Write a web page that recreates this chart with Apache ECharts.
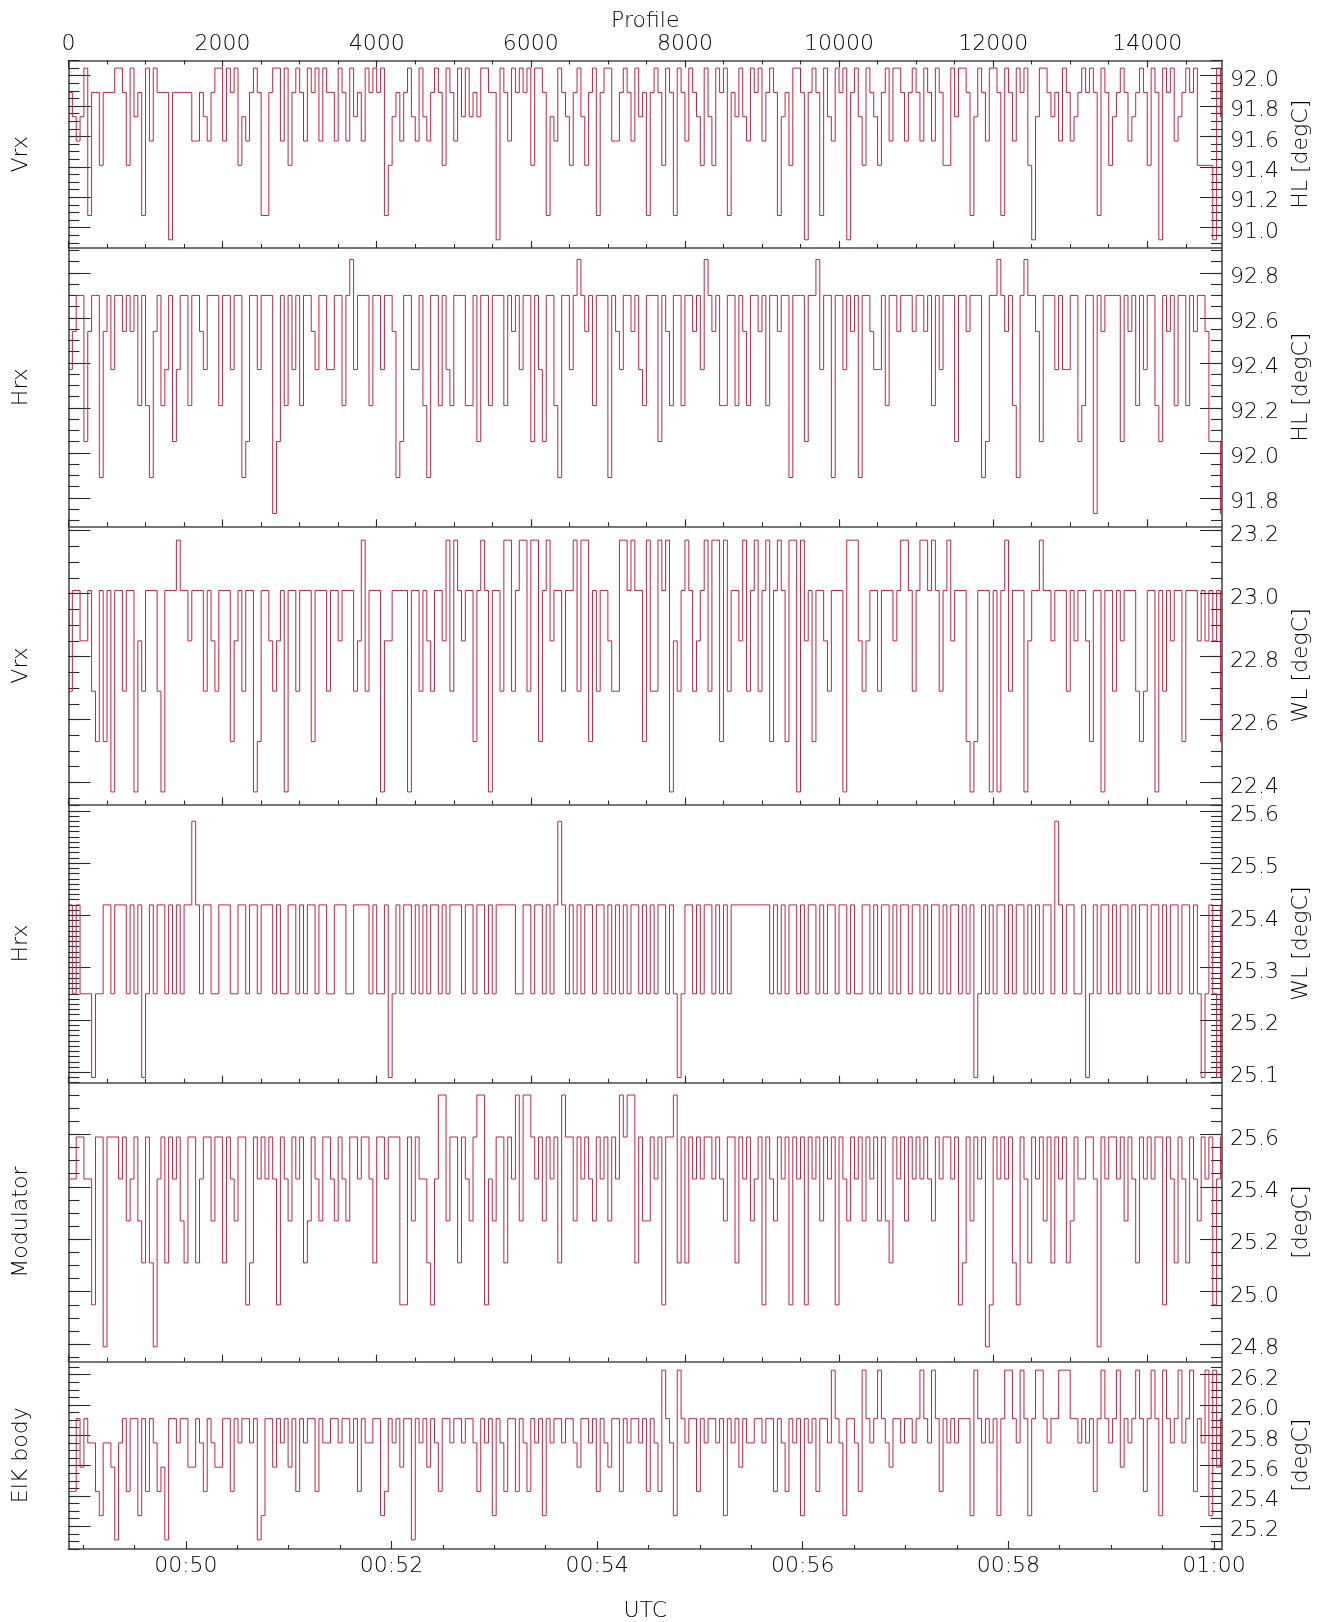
<!DOCTYPE html>
<html>
<head>
<meta charset="utf-8">
<title>Receiver temperatures</title>
<script src="https://cdn.jsdelivr.net/npm/echarts@6/dist/echarts.min.js"></script>
<style>
  html, body { margin: 0; padding: 0; background: #ffffff; }
  #chart { width: 1331px; height: 1622px; }
</style>
</head>
<body>
<div id="chart"></div>
<script>
// One stored sample every PROFILE_STEP profiles; each value holds until the next sample.
const PROFILE_STEP = 50;
const PROFILE_END = 14970;
// UTC (seconds after 00:00) at the first and the last profile
const UTC_START = 2931.5;
const UTC_END = 3604.7;

// Vrx, HL load [degC]
const vrxHl = [
  91.89,91.73,91.57,91.73,92.05,91.08,91.89,91.89,91.41,91.89,
  91.89,91.89,92.05,92.05,91.89,91.41,92.05,91.73,91.89,91.08,
  92.05,91.57,92.05,91.89,91.89,91.89,90.92,91.89,91.89,91.89,
  91.89,91.89,91.57,91.57,91.89,91.73,91.57,91.89,92.05,92.05,
  91.57,92.05,91.89,92.05,91.41,91.73,91.57,91.89,92.05,91.89,
  91.08,91.08,91.89,92.05,92.05,91.57,92.05,91.41,91.89,92.05,
  91.89,91.57,92.05,91.89,92.05,91.57,92.05,91.89,91.89,91.57,
  92.05,91.89,91.57,92.05,91.73,91.89,91.57,92.05,91.89,92.05,
  91.89,92.05,91.08,91.41,91.73,91.89,91.57,91.89,92.05,91.73,
  91.57,92.05,91.73,91.57,91.89,92.05,91.89,91.41,92.05,91.89,
  91.57,92.05,91.73,92.05,91.73,91.89,91.73,92.05,92.05,91.89,
  91.89,90.92,92.05,91.89,91.57,92.05,91.89,92.05,91.89,92.05,
  91.41,92.05,92.05,91.89,91.08,91.73,91.57,92.05,91.89,91.73,
  91.41,91.89,92.05,91.73,91.41,91.89,92.05,91.08,91.89,92.05,
  92.05,91.57,91.57,91.89,92.05,91.89,91.57,92.05,91.73,91.89,
  91.08,91.89,92.05,91.89,91.41,92.05,91.89,91.08,92.05,91.89,
  91.57,92.05,91.89,91.73,91.41,92.05,91.73,91.41,92.05,91.89,
  92.05,91.08,91.89,91.73,92.05,91.73,91.57,92.05,91.89,92.05,
  91.57,91.89,92.05,91.89,91.08,91.73,91.89,91.41,92.05,92.05,
  91.89,90.92,91.89,92.05,91.89,91.08,92.05,91.73,91.57,92.05,
  91.89,92.05,90.92,91.89,92.05,91.73,91.41,92.05,91.89,91.73,
  91.41,91.89,92.05,91.57,92.05,92.05,91.89,91.57,91.89,92.05,
  91.89,91.57,92.05,91.89,91.57,92.05,91.89,91.41,91.41,92.05,
  91.73,92.05,92.05,91.89,91.08,91.73,92.05,91.89,91.57,92.05,
  92.05,91.89,91.08,92.05,91.89,91.57,92.05,91.89,92.05,91.41,
  90.92,91.73,92.05,92.05,91.89,91.73,91.89,91.57,92.05,91.89,
  91.57,91.73,91.89,92.05,91.89,92.05,91.89,91.08,92.05,91.89,
  91.41,91.73,91.89,92.05,91.89,91.57,91.73,91.89,92.05,91.89,
  91.41,92.05,91.89,90.92,92.05,91.89,92.05,91.57,91.73,91.89,
  92.05,91.89,92.05,91.41,91.41,91.41,91.41,90.92,92.05,91.73
];

// Hrx, HL load [degC]
const hrxHl = [
  92.37,92.54,92.70,92.70,92.05,92.54,92.70,92.70,91.89,92.54,
  92.70,92.37,92.70,92.70,92.54,92.70,92.54,92.70,92.21,92.70,
  92.21,91.89,92.54,92.70,92.21,92.37,92.70,92.05,92.37,92.70,
  92.70,92.21,92.70,92.70,92.54,92.37,92.70,92.70,92.70,92.21,
  92.70,92.70,92.37,92.70,92.70,91.89,92.05,92.70,92.70,92.37,
  92.70,92.70,92.70,91.73,92.05,92.70,92.21,92.70,92.37,92.70,
  92.21,92.70,92.70,92.54,92.37,92.70,92.70,92.37,92.37,92.70,
  92.70,92.21,92.70,92.86,92.37,92.70,92.70,92.70,92.21,92.70,
  92.70,92.37,92.70,92.70,92.54,91.89,92.05,92.70,92.70,92.37,
  92.37,92.70,92.21,91.89,92.70,92.70,92.21,92.70,92.37,92.21,
  92.70,92.70,92.70,92.21,92.21,92.70,92.05,92.70,92.70,92.21,
  92.70,92.70,92.70,92.21,92.70,92.54,92.70,92.37,92.70,92.70,
  92.05,92.70,92.37,92.05,92.70,92.70,92.21,91.89,92.70,92.70,
  92.37,92.70,92.86,92.70,92.54,92.70,92.21,92.70,92.70,92.70,
  91.89,92.70,92.54,92.37,92.70,92.70,92.54,92.70,92.37,92.21,
  92.70,92.70,92.70,92.05,92.70,92.54,92.21,92.70,92.70,92.21,
  92.70,92.70,92.54,92.70,92.37,92.86,92.70,92.54,92.70,92.21,
  92.21,92.70,92.70,92.21,92.70,92.54,92.21,92.70,92.70,92.54,
  92.70,92.21,92.70,92.70,92.54,92.70,92.70,91.89,92.70,92.70,
  92.70,92.05,92.70,92.70,92.86,92.37,92.70,92.70,91.89,92.70,
  92.70,92.37,92.70,92.54,92.70,91.89,92.70,92.70,92.54,92.37,
  92.37,92.70,92.21,92.70,92.70,92.54,92.70,92.70,92.70,92.54,
  92.70,92.70,92.54,92.70,92.21,92.70,92.37,92.70,92.70,92.70,
  92.05,92.70,92.70,92.54,92.70,92.70,92.70,91.89,92.05,92.70,
  92.70,92.86,92.70,92.54,92.70,92.21,91.89,92.70,92.86,92.70,
  92.70,92.54,92.05,92.70,92.70,92.70,92.37,92.70,92.37,92.37,
  92.70,92.70,92.05,92.21,92.70,92.70,91.73,92.70,92.54,92.70,
  92.70,92.70,92.70,92.05,92.70,92.54,92.70,92.21,92.70,92.37,
  92.70,92.70,92.21,92.05,92.70,92.54,92.70,92.21,92.70,92.70,
  92.21,92.70,92.54,92.70,92.70,92.54,92.05,92.05,92.05,91.73
];

// Vrx, WL load [degC]
const vrxWl = [
  22.69,23.01,23.01,22.85,22.85,23.01,22.69,22.53,23.01,22.53,
  23.01,22.37,23.01,23.01,22.69,23.01,23.01,22.37,22.85,22.69,
  23.01,23.01,23.01,22.69,22.37,23.01,23.01,23.01,23.17,23.01,
  23.01,22.85,23.01,23.01,23.01,22.69,23.01,22.85,22.69,23.01,
  23.01,23.01,22.53,22.85,23.01,22.69,23.01,23.01,22.37,22.53,
  23.01,23.01,22.85,22.69,22.85,23.01,22.37,23.01,23.01,22.69,
  23.01,23.01,23.01,22.53,23.01,23.01,23.01,22.69,23.01,23.01,
  22.85,23.01,23.01,23.01,22.69,22.85,23.17,22.69,23.01,23.01,
  23.01,22.37,22.85,22.85,23.01,23.01,23.01,23.01,22.37,23.01,
  23.01,22.69,23.01,22.85,22.69,23.01,23.01,22.85,23.17,22.69,
  23.17,23.01,22.85,23.01,23.01,22.53,23.01,23.17,23.01,22.37,
  23.01,23.01,22.69,23.17,23.17,22.69,23.01,23.17,23.17,22.69,
  23.17,23.17,22.53,23.01,23.17,22.85,23.01,23.01,22.69,23.01,
  23.01,23.17,22.69,23.17,23.17,22.53,23.01,22.69,23.01,23.01,
  22.85,22.69,22.69,23.17,23.17,23.01,23.17,23.01,23.01,22.53,
  23.17,22.69,22.69,23.17,23.01,23.17,22.37,22.85,22.69,23.01,
  23.17,23.01,22.69,22.85,23.01,23.17,22.69,23.17,23.17,22.53,
  23.17,22.69,23.01,23.01,22.85,23.17,22.69,23.01,23.17,22.69,
  23.01,23.17,22.53,23.01,23.17,23.01,22.53,23.17,23.17,22.37,
  23.17,22.85,23.01,22.53,23.01,23.01,22.85,22.69,23.01,23.01,
  23.01,22.37,23.17,23.17,23.17,22.85,22.69,22.85,23.01,23.01,
  22.69,23.01,23.01,23.01,22.85,23.01,23.17,23.17,23.01,22.69,
  23.01,23.17,23.17,23.01,23.17,23.01,22.69,23.01,23.17,22.85,
  23.01,23.01,23.01,22.53,22.37,22.53,23.01,23.01,23.01,22.37,
  23.01,22.37,23.01,23.17,22.69,23.01,23.01,23.01,22.37,22.85,
  23.01,23.01,23.17,23.01,23.01,22.85,23.01,23.01,23.01,22.69,
  23.01,22.85,23.01,23.01,22.85,22.53,23.01,23.01,22.37,23.01,
  23.01,22.69,23.01,22.85,23.01,23.01,23.01,22.69,22.53,22.69,
  23.01,23.01,22.37,23.01,22.69,23.01,22.85,23.01,23.01,22.53,
  23.01,23.01,23.01,22.85,23.01,22.85,23.01,22.85,23.01,22.53
];

// Hrx, WL load [degC]
const hrxWl = [
  25.42,25.25,25.42,25.25,25.25,25.25,25.09,25.25,25.25,25.42,
  25.42,25.25,25.42,25.42,25.42,25.25,25.42,25.25,25.42,25.09,
  25.25,25.42,25.25,25.42,25.42,25.25,25.42,25.25,25.42,25.25,
  25.42,25.42,25.58,25.42,25.25,25.42,25.42,25.25,25.25,25.42,
  25.42,25.42,25.25,25.25,25.42,25.42,25.25,25.42,25.42,25.25,
  25.42,25.42,25.42,25.25,25.42,25.25,25.25,25.42,25.42,25.25,
  25.42,25.25,25.42,25.42,25.25,25.42,25.42,25.25,25.25,25.42,
  25.42,25.42,25.25,25.25,25.42,25.42,25.42,25.42,25.25,25.42,
  25.25,25.25,25.42,25.09,25.25,25.42,25.25,25.42,25.42,25.25,
  25.42,25.25,25.42,25.25,25.42,25.42,25.25,25.42,25.25,25.42,
  25.42,25.42,25.25,25.42,25.42,25.25,25.42,25.42,25.25,25.42,
  25.25,25.42,25.42,25.42,25.42,25.42,25.25,25.25,25.42,25.42,
  25.25,25.42,25.42,25.25,25.42,25.25,25.42,25.58,25.42,25.25,
  25.42,25.25,25.42,25.25,25.42,25.42,25.25,25.42,25.42,25.25,
  25.42,25.25,25.42,25.25,25.42,25.25,25.42,25.42,25.25,25.42,
  25.25,25.42,25.25,25.42,25.42,25.25,25.42,25.25,25.09,25.25,
  25.42,25.42,25.25,25.42,25.25,25.42,25.42,25.25,25.42,25.25,
  25.42,25.25,25.42,25.42,25.42,25.42,25.42,25.42,25.42,25.42,
  25.42,25.42,25.25,25.42,25.25,25.42,25.25,25.42,25.42,25.25,
  25.42,25.25,25.42,25.42,25.25,25.42,25.25,25.42,25.42,25.25,
  25.42,25.42,25.25,25.42,25.25,25.25,25.42,25.42,25.25,25.42,
  25.25,25.42,25.42,25.25,25.42,25.25,25.42,25.42,25.25,25.42,
  25.42,25.25,25.42,25.25,25.42,25.42,25.25,25.42,25.25,25.42,
  25.42,25.25,25.42,25.25,25.42,25.09,25.25,25.42,25.25,25.42,
  25.25,25.42,25.42,25.25,25.42,25.25,25.42,25.42,25.25,25.42,
  25.25,25.42,25.25,25.42,25.42,25.25,25.58,25.42,25.25,25.42,
  25.42,25.25,25.25,25.42,25.09,25.25,25.42,25.25,25.42,25.42,
  25.25,25.42,25.25,25.42,25.42,25.25,25.42,25.25,25.42,25.42,
  25.25,25.42,25.42,25.25,25.42,25.25,25.42,25.42,25.25,25.42,
  25.42,25.25,25.42,25.25,25.09,25.25,25.42,25.25,25.09,25.42
];

// Modulator [degC]
const modulator = [
  25.43,25.43,25.59,25.59,25.43,25.43,24.95,25.59,25.59,24.79,
  25.59,25.59,25.59,25.43,25.59,25.27,25.43,25.59,25.27,25.11,
  25.59,25.11,24.79,25.43,25.59,25.11,25.59,25.43,25.59,25.27,
  25.11,25.59,25.59,25.11,25.43,25.59,25.59,25.27,25.59,25.59,
  25.11,25.59,25.43,25.27,25.59,25.59,24.95,25.11,25.59,25.43,
  25.59,25.43,25.59,25.43,24.95,25.59,25.43,25.27,25.59,25.43,
  25.59,25.11,25.27,25.59,25.43,25.27,25.59,25.59,25.43,25.27,
  25.59,25.43,25.27,25.59,25.59,25.43,25.59,25.59,25.43,25.11,
  25.59,25.59,25.43,25.59,25.59,25.59,24.95,24.95,25.59,25.27,
  25.59,25.43,25.43,25.11,24.95,25.43,25.75,25.75,25.27,25.59,
  25.59,25.11,25.59,25.43,25.27,25.59,25.75,25.75,24.95,25.43,
  25.27,25.59,25.59,25.11,25.59,25.43,25.75,25.27,25.75,25.75,
  25.59,25.43,25.59,25.27,25.59,25.43,25.59,25.11,25.75,25.59,
  25.59,25.27,25.59,25.43,25.59,25.43,25.27,25.59,25.43,25.59,
  25.27,25.59,25.43,25.75,25.59,25.75,25.75,25.11,25.59,25.27,
  25.27,25.59,25.43,25.59,24.95,25.59,25.59,25.75,25.11,25.59,
  25.11,25.59,25.43,25.59,25.43,25.59,25.59,25.43,25.59,25.43,
  25.27,25.59,25.59,25.11,25.59,25.43,25.59,25.27,25.43,25.59,
  24.95,25.59,25.43,25.27,25.59,25.43,25.59,24.95,25.59,25.43,
  25.59,24.95,25.59,25.43,25.59,25.27,25.59,25.43,25.59,24.95,
  25.59,25.43,25.27,25.59,25.43,25.59,25.27,25.59,25.43,25.59,
  25.27,25.59,25.27,25.11,25.59,25.43,25.59,25.27,25.59,25.43,
  25.59,25.43,25.59,25.43,25.27,25.59,25.43,25.59,25.59,25.43,
  25.59,24.95,25.11,25.59,25.27,25.59,25.43,25.59,24.79,24.95,
  25.59,25.43,25.59,25.43,25.59,25.11,24.95,25.59,25.43,25.11,
  25.59,25.43,25.59,25.27,25.59,25.11,25.59,25.43,25.59,25.11,
  25.27,25.59,25.43,25.43,25.59,25.59,25.43,24.79,25.59,25.43,
  25.59,25.59,25.43,25.59,25.27,25.59,25.43,25.11,25.59,25.43,
  25.59,25.43,25.59,25.59,24.95,25.59,25.43,25.11,25.59,25.43,
  25.11,25.59,25.43,25.27,25.59,25.43,25.59,24.95,25.43,25.59
];

// ElK body [degC]
const elkBody = [
  25.43,25.43,25.91,25.59,25.91,25.75,25.75,25.43,25.27,25.75,
  25.75,25.59,25.11,25.75,25.91,25.43,25.91,25.91,25.27,25.91,
  25.43,25.91,25.75,25.43,25.59,25.11,25.91,25.91,25.75,25.91,
  25.91,25.59,25.59,25.91,25.75,25.43,25.91,25.75,25.59,25.59,
  25.91,25.91,25.43,25.91,25.75,25.91,25.91,25.75,25.91,25.11,
  25.27,25.91,25.91,25.59,25.91,25.75,25.91,25.59,25.91,25.43,
  25.91,25.75,25.91,25.91,25.43,25.91,25.75,25.75,25.91,25.91,
  25.75,25.91,25.91,25.75,25.91,25.43,25.91,25.75,25.75,25.91,
  25.91,25.27,25.43,25.91,25.75,25.91,25.59,25.91,25.91,25.11,
  25.91,25.75,25.91,25.59,25.91,25.75,25.43,25.91,25.91,25.75,
  25.91,25.91,25.75,25.91,25.91,25.75,25.43,25.91,25.75,25.91,
  25.27,25.91,25.75,25.43,25.91,25.91,25.43,25.91,25.75,25.43,
  25.91,25.75,25.91,25.27,25.91,25.75,25.91,25.91,25.75,25.91,
  25.91,25.75,25.59,25.91,25.91,25.75,25.91,25.43,25.91,25.75,
  25.59,25.91,25.91,25.43,25.91,25.75,25.91,25.91,25.75,25.91,
  25.43,25.91,25.75,25.43,26.23,25.91,25.75,25.27,26.23,25.91,
  25.75,25.91,25.91,25.43,25.91,25.75,25.91,25.91,25.75,25.91,
  25.27,25.91,25.75,25.91,25.59,25.91,25.75,25.75,25.91,25.91,
  25.75,25.91,25.91,25.43,25.91,25.75,25.43,25.91,25.75,25.91,
  25.27,25.91,25.75,25.91,25.43,25.91,25.91,25.75,26.23,25.91,
  25.75,25.27,25.91,25.91,25.75,25.43,26.23,25.91,25.75,25.91,
  26.23,25.91,25.75,25.59,25.91,25.91,25.75,25.91,25.91,25.75,
  25.91,26.23,25.91,25.75,26.23,25.91,25.43,25.91,25.75,25.91,
  25.75,25.91,25.91,25.91,25.27,26.23,25.91,25.75,25.91,25.75,
  25.91,25.27,25.91,26.23,26.23,25.91,25.75,26.23,25.91,25.27,
  25.91,26.23,26.23,25.91,25.75,25.91,25.91,26.23,26.23,26.23,
  25.91,25.91,25.75,25.91,25.75,25.91,25.43,25.91,26.23,25.91,
  25.75,25.91,26.23,25.59,25.91,25.75,25.91,26.23,25.91,25.43,
  25.91,26.23,25.91,25.27,26.23,25.91,25.75,25.91,26.23,25.75,
  25.91,26.23,25.43,25.91,25.75,26.23,25.27,26.23,25.59,25.91
];

const panelSeries = [vrxHl, hrxHl, vrxWl, hrxWl, modulator, elkBody];
const panelLabels = ['Vrx', 'Hrx', 'Vrx', 'Hrx', 'Modulator', 'ElK body'];
const unitLabels = ['HL [degC]', 'HL [degC]', 'WL [degC]', 'WL [degC]', '[degC]', '[degC]'];
const yTickLabels = [
  [91.0, 91.2, 91.4, 91.6, 91.8, 92.0],
  [91.8, 92.0, 92.2, 92.4, 92.6, 92.8],
  [22.4, 22.6, 22.8, 23.0, 23.2],
  [25.1, 25.2, 25.3, 25.4, 25.5, 25.6],
  [24.8, 25.0, 25.2, 25.4, 25.6],
  [25.2, 25.4, 25.6, 25.8, 26.0, 26.2]
];
const yMinorStep = [0.05, 0.05, 0.05, 0.01, 0.05, 0.05];
const yRange = [
  [90.866, 92.100],
  [91.673, 92.911],
  [22.330, 23.214],
  [25.080, 25.612],
  [24.734, 25.797],
  [25.050, 26.287]
];
const profileTickLabels = [0, 2000, 4000, 6000, 8000, 10000, 12000, 14000];
const utcTickLabels = ['00:50', '00:52', '00:54', '00:56', '00:58', '01:00'];

// ---- layout and style ----
const PLOT_LEFT = 68.5;
const PLOT_WIDTH = 1153.5;
const panelTop = [60.5, 248, 526.3, 804.5, 1082.7, 1361.5];
const panelHeight = [187.5, 278.3, 278.2, 278.2, 278.8, 187.5];
const FONT = 'DejaVu Sans';
const TEXT_COLOR = '#000000';
const LINE_COLOR = '#bb2645';
const frameLine = { show: true, onZero: false, lineStyle: { color: '#4a4a4a', width: 1.6 } };
const noLine = { show: false, onZero: false };
const tickStyle = { color: '#2a2a2a', width: 1.1 };
const textStyle = { fontFamily: FONT, fontSize: 22, color: TEXT_COLOR, fontWeight: 300 };

function stepValues(min, max, step) {
  const out = [];
  for (let k = Math.ceil(min / step - 1e-9); k * step <= max + 1e-9; k++) {
    out.push(Math.round(k * step * 1000) / 1000);
  }
  return out;
}
function parseClock(s) {
  const [h, m] = s.split(':').map(Number);
  return h * 3600 + m * 60;
}
function pad2(n) { return (n < 10 ? '0' : '') + n; }
function formatClock(sec) {
  const h = Math.floor(sec / 3600);
  const m = Math.round((sec - h * 3600) / 60);
  return pad2(h) + ':' + pad2(m);
}

const utcMajor = utcTickLabels.map(parseClock);
const utcMinor = stepValues(UTC_START, UTC_END, 30);
const profileMinor = stepValues(0, PROFILE_END, 500);

const grids = [], xAxes = [], yAxes = [], series = [];

function profileAxis(g, position, ticks, length, extra) {
  return Object.assign({
    type: 'value', gridIndex: g, position: position, min: 0, max: PROFILE_END,
    axisLine: noLine,
    axisTick: { show: true, inside: true, length: length, lineStyle: tickStyle, customValues: ticks },
    axisLabel: { show: false },
    splitLine: { show: false }
  }, extra || {});
}

panelSeries.forEach((values, g) => {
  const last = g === panelSeries.length - 1;
  grids.push({ left: PLOT_LEFT, top: panelTop[g], width: PLOT_WIDTH, height: panelHeight[g], outerBoundsMode: 'none' });

  // profile scale carrying the series; its ticks mark the panel's lower edge
  const xMain = xAxes.length;
  xAxes.push(profileAxis(g, 'bottom', profileTickLabels, 7, last ? {
    axisTick: { show: false }, axisLine: noLine
  } : { axisLine: frameLine }));
  if (!last) xAxes.push(profileAxis(g, 'bottom', profileMinor, 4));

  if (g === 0) {
    // profile numbers along the top of the figure
    xAxes.push(profileAxis(g, 'top', profileTickLabels, 7, {
      axisLine: frameLine,
      axisLabel: { show: true, customValues: profileTickLabels, margin: 5, formatter: v => String(v), ...textStyle },
      name: 'Profile', nameLocation: 'middle', nameGap: 28, nameTextStyle: { ...textStyle }
    }));
    xAxes.push(profileAxis(g, 'top', profileMinor, 4));
  }
  if (last) {
    // UTC along the bottom of the figure
    xAxes.push({
      type: 'value', gridIndex: g, position: 'bottom', min: UTC_START, max: UTC_END,
      axisLine: frameLine,
      axisTick: { show: true, inside: true, length: 8, lineStyle: tickStyle, customValues: utcMajor },
      axisLabel: { show: true, customValues: utcMajor, margin: 6, formatter: formatClock, ...textStyle },
      splitLine: { show: false },
      name: 'UTC', nameLocation: 'middle', nameGap: 51, nameTextStyle: { ...textStyle }
    });
    xAxes.push({
      type: 'value', gridIndex: g, position: 'bottom', min: UTC_START, max: UTC_END,
      axisLine: noLine,
      axisTick: { show: true, inside: true, length: 4, lineStyle: tickStyle, customValues: utcMinor },
      axisLabel: { show: false }, splitLine: { show: false }
    });
  }

  const [yMin, yMax] = yRange[g];
  const major = yTickLabels[g];
  const minor = stepValues(yMin, yMax, yMinorStep[g]);
  const yBase = { type: 'value', gridIndex: g, min: yMin, max: yMax, splitLine: { show: false }, scale: true };

  const yMain = yAxes.length;
  yAxes.push({ ...yBase, position: 'left', axisLine: frameLine,
    axisTick: { show: true, inside: true, length: 22, lineStyle: tickStyle, customValues: major },
    axisLabel: { show: false },
    name: panelLabels[g], nameLocation: 'middle', nameRotate: 90, nameGap: 36, nameTextStyle: { ...textStyle } });
  yAxes.push({ ...yBase, position: 'left', axisLine: noLine,
    axisTick: { show: true, inside: true, length: 11, lineStyle: tickStyle, customValues: minor },
    axisLabel: { show: false } });
  yAxes.push({ ...yBase, position: 'right', axisLine: frameLine,
    axisTick: { show: true, inside: true, length: 22, lineStyle: tickStyle, customValues: major },
    // labels sit a little below their tick
    axisLabel: { show: true, customValues: major, margin: 8, verticalAlign: 'top', lineHeight: 9,
      formatter: v => v.toFixed(1), ...textStyle },
    name: unitLabels[g], nameLocation: 'middle', nameRotate: 90, nameGap: 67, nameTextStyle: { ...textStyle } });
  yAxes.push({ ...yBase, position: 'right', axisLine: noLine,
    axisTick: { show: true, inside: true, length: 11, lineStyle: tickStyle, customValues: minor },
    axisLabel: { show: false } });

  const data = values.map((v, i) => [i * PROFILE_STEP, v]);
  data.push([PROFILE_END, values[values.length - 1]]);
  series.push({
    type: 'line', name: panelLabels[g], xAxisIndex: xMain, yAxisIndex: yMain,
    data: data, step: 'end', symbol: 'none', showSymbol: false,
    lineStyle: { color: LINE_COLOR, width: 1 }, itemStyle: { color: LINE_COLOR },
    emphasis: { disabled: true }, silent: true, z: 1
  });
});

const chart = echarts.init(document.getElementById('chart'), null, { renderer: 'canvas' });
chart.setOption({
  animation: false,
  backgroundColor: '#ffffff',
  textStyle: { fontFamily: FONT },
  grid: grids,
  xAxis: xAxes,
  yAxis: yAxes,
  series: series
});
</script>
</body>
</html>
